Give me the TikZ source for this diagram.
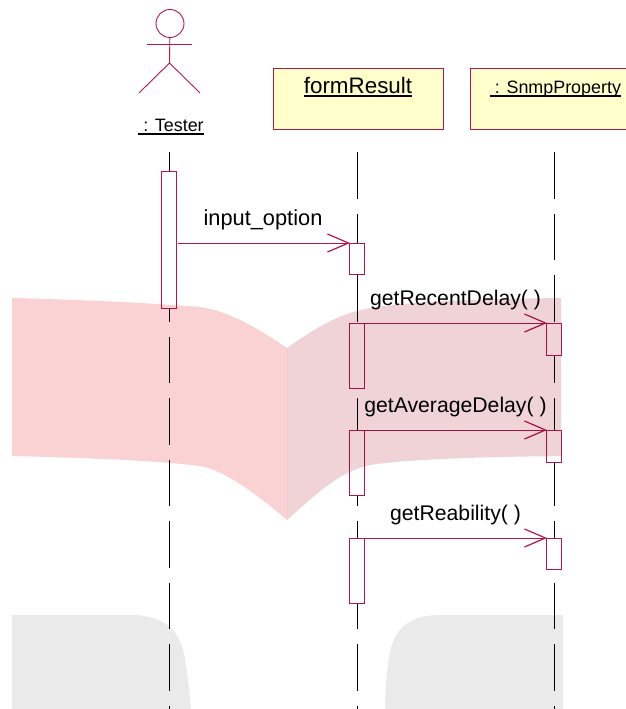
\documentclass[tikz,border=0pt]{standalone}
\usepackage{fontspec}
\setmainfont{Liberation Sans}
\usetikzlibrary{positioning,arrows.meta}
\definecolor{umlred}{HTML}{B0184A}
\definecolor{umlyellow}{HTML}{FFFFCC}
\definecolor{bandl}{HTML}{FAD2D4}
\definecolor{bandr}{HTML}{EFD3D6}
\definecolor{bandg}{HTML}{EAEAEA}
\newcommand{\ulabel}[1]{\setbox0\hbox{#1}\rlap{\copy0}\raisebox{-3.6pt}{\rule{\wd0}{1.6pt}}}
\tikzset{objbox/.style={draw=umlred, fill=umlyellow, line width=0.9pt, minimum width=170, minimum height=61, inner sep=0}}
\tikzset{act/.style={draw=umlred, fill=white, line width=0.9pt, minimum width=15, inner sep=0, outer sep=0}}
\tikzset{lifeline/.style={draw=black, line width=1pt, dash pattern=on 46.5pt off 15pt}}
\tikzset{msg/.style={draw=umlred, line width=0.9pt, -{Straight Barb[length=21pt,width=18pt,line width=1.2pt]}, shorten <=1pt, shorten >=-1pt}}
\tikzset{limb/.style={draw=umlred, line width=0.9pt}}
\tikzset{lbl/.style={inner sep=0, font=\fontsize{21.2}{25}\selectfont, anchor=base}}
\tikzset{small/.style={inner sep=0, font=\fontsize{17.9}{21}\selectfont, anchor=base}}
\begin{document}
\begin{tikzpicture}[x=1pt,y=-1pt]
	\useasboundingbox (0,0) rectangle (626,709);
	% objects
	\node[draw=umlred, line width=0.9pt, circle, minimum size=28, inner sep=0] (head) at (170,23.5) {};
	\coordinate (neck) at (169.5,63);
	\coordinate (handl) at (147,44);
	\coordinate (handr) at (192,44);
	\coordinate (footl) at (139,93);
	\coordinate (footr) at (200,93);
	\draw[limb] (head) -- (neck);
	\draw[limb] (handl) -- (handr);
	\draw[limb] (footl) -- (neck) -- (footr);
	\node[small] (tester) at (171,131) {\ulabel{\ : Tester}};
	\node[objbox] (form) at (358,99) {};
	\node[objbox] (snmp) at (555,99) {};
	\node[lbl, font=\fontsize{22.4}{26}\selectfont] (formlbl) at (358,93) {\ulabel{formResult}};
	\node[small] (snmplbl) at (555.5,93) {\ulabel{\ : SnmpProperty}};
	% lifelines
	\coordinate (t0) at (169.5,152);
	\coordinate (t1) at (169.5,712);
	\coordinate (f0) at (357,152);
	\coordinate (f1) at (357,712);
	\coordinate (s0) at (554,152);
	\coordinate (s1) at (554,712);
	\draw[lifeline] (t0) -- (t1);
	\draw[lifeline] (f0) -- (f1);
	\draw[lifeline] (s0) -- (s1);
	% activations
	\node[act, minimum height=137] (ta) at (169,239.5) {};
	\node[act, minimum height=31] (fa) at (356.5,258.5) {};
	\node[act, minimum height=65] (fb) at (356.5,355.5) {};
	\node[act, minimum height=65] (fc) at (356.5,462.5) {};
	\node[act, minimum height=65] (fd) at (356.5,570.5) {};
	\node[act, minimum height=32] (sb) at (553.5,339) {};
	\node[act, minimum height=32] (sc) at (553.5,446) {};
	\node[act, minimum height=31] (sd) at (553.5,553.5) {};
	% messages
	\draw[msg] (ta.east |- fa.north) -- (fa.north west);
	\draw[msg] (fb.north east) -- (sb.north west);
	\draw[msg] (fc.north east) -- (sc.north west);
	\draw[msg] (fd.north east) -- (sd.north west);
	\node[lbl, font=\fontsize{21.8}{26}\selectfont] (m1) at (263,225) {input\_option};
	\node[lbl] (m2) at (455.5,305) {getRecentDelay( )};
	\node[lbl] (m3) at (455.5,412) {getAverageDelay( )};
	\node[lbl] (m4) at (455.5,520) {getReability( )};
	% background bands
	\fill[bandl, blend mode=multiply] (12,298) .. controls (90,300) and (150,303) .. (200,307)
		.. controls (230,311) and (260,330) .. (287,348) -- (287,520)
		.. controls (260,497) and (230,474) .. (205,467) .. controls (170,461) and (90,458) .. (12,456) -- cycle;
	\fill[bandr, blend mode=multiply] (287,348) .. controls (310,332) and (335,315) .. (365,309)
		.. controls (410,301) and (480,299) .. (561,298) -- (561,456)
		.. controls (480,457) and (410,459) .. (370,465) .. controls (340,471) and (315,495) .. (287,520) -- cycle;
	\fill[bandg, blend mode=multiply] (12,615) -- (130,615) .. controls (165,615) and (182,630) .. (186,665)
		.. controls (188,680) and (190,695) .. (191,709) -- (12,709) -- cycle;
	\fill[bandg, blend mode=multiply] (563,615) -- (440,615) .. controls (405,615) and (391,632) .. (388,665)
		.. controls (386,680) and (385,695) .. (385,709) -- (563,709) -- cycle;
\end{tikzpicture}
\end{document}
